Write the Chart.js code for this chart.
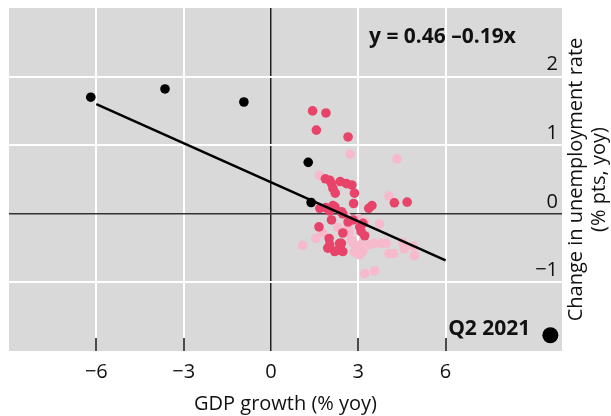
<!DOCTYPE html>
<html>
<head>
<meta charset="utf-8">
<script src="https://cdn.jsdelivr.net/npm/chart.js@4.4.1/dist/chart.umd.min.js"></script>
<style>
  html, body { margin: 0; padding: 0; background: #fff; }
</style>
</head>
<body>
<canvas id="chart" width="611" height="416"></canvas>
<script>
// earlier quarters (pink), recent quarters (red), big outliers (black)
const redX = [1.43, 1.89, 1.56, 2.65, 1.87, 2.02, 2.08, 2.13, 2.38, 2.59, 2.78, 2.21, 2.87, 2.84, 4.24, 4.68, 1.68, 1.88, 2.13, 2.02, 2.20, 2.42, 3.36, 3.47, 2.08, 2.47, 2.82, 2.65, 3.16, 1.65, 3.05, 3.10, 3.22, 2.47, 2.00, 2.02, 1.95, 2.36, 2.30, 2.19, 2.47, 2.42];
const redY = [1.50, 1.47, 1.22, 1.12, 0.51, 0.49, 0.44, 0.37, 0.47, 0.44, 0.42, 0.30, 0.30, 0.15, 0.16, 0.17, 0.08, 0.09, 0.12, 0.04, 0.10, 0.03, 0.08, 0.12, -0.09, 0.00, -0.09, -0.12, -0.14, -0.19, -0.19, -0.26, -0.32, -0.28, -0.36, -0.45, -0.50, -0.43, -0.53, -0.55, -0.55, -0.43];

const pinkX = [2.72, 4.33, 1.66, 4.05, 2.61, 3.00, 3.22, 3.73, 2.30, 1.77, 2.68, 1.54, 1.09, 2.76, 2.82, 2.93, 2.87, 3.05, 3.16, 3.39, 3.55, 3.79, 3.96, 4.05, 4.21, 4.53, 4.58, 4.89, 4.93, 3.22, 3.56, 2.65, 3.10];
const pinkY = [0.87, 0.80, 0.56, 0.26, -0.05, -0.07, -0.12, -0.15, -0.20, -0.28, -0.28, -0.36, -0.46, -0.38, -0.43, -0.48, -0.56, -0.60, -0.55, -0.45, -0.43, -0.43, -0.43, -0.58, -0.58, -0.42, -0.51, -0.47, -0.61, -0.87, -0.83, -0.20, -0.45];

const blackX = [-6.19, -3.64, -0.93, 1.28, 1.38];
const blackY = [1.70, 1.82, 1.63, 0.75, 0.165];

// fitted line end points, y = 0.46 - 0.19x
const fitX = [-6, 6];
const fitY = [1.60, -0.68];

// legend dot for Q2 2021
const q2X = [9.6];
const q2Y = [-1.77];

const xTicks = [-6, -3, 0, 3, 6];
const yTicks = [2, 1, 0, -1];

const FONT = '"Open Sans", "Noto Sans", sans-serif';
const TXT = '#111';

function toPoints(xs, ys) {
  return xs.map((x, i) => ({ x: x, y: ys[i] }));
}
function fmt(v) {
  return v < 0 ? '\u2212' + Math.abs(v) : String(v);
}

const decor = {
  id: 'decor',
  beforeDraw(chart) {
    const { ctx, chartArea: a } = chart;
    ctx.save();
    ctx.fillStyle = '#d9d9d9';
    ctx.fillRect(a.left, a.top, a.right - a.left, a.bottom - a.top);
    ctx.restore();
  },
  beforeDatasetsDraw(chart) {
    // short tick marks pointing up into the plot
    const { ctx, chartArea: a, scales } = chart;
    ctx.save();
    ctx.strokeStyle = '#111';
    ctx.lineWidth = 1.5;
    xTicks.forEach(v => {
      if (v === 0) return;
      const px = Math.round(scales.x.getPixelForValue(v));
      ctx.beginPath();
      ctx.moveTo(px, a.bottom);
      ctx.lineTo(px, a.bottom - 13);
      ctx.stroke();
    });
    ctx.restore();
  },
  afterDraw(chart) {
    const { ctx, chartArea: a, scales } = chart;
    ctx.save();
    ctx.fillStyle = TXT;
    ctx.textBaseline = 'middle';
    ctx.font = 'bold 21px ' + FONT;
    ctx.textAlign = 'left';
    ctx.fillText('y = 0.46 \u20130.19x', 369, 37);
    ctx.textAlign = 'right';
    ctx.fillText('Q2 2021', scales.x.getPixelForValue(q2X[0]) - 20, scales.y.getPixelForValue(q2Y[0]) - 6);

    ctx.font = '20px ' + FONT;
    ctx.translate(587, (a.top + a.bottom) / 2);
    ctx.rotate(-Math.PI / 2);
    ctx.textAlign = 'center';
    ctx.fillText('Change in unemployment rate', 0, -11);
    ctx.fillText('(% pts, yoy)', 0, 12);
    ctx.restore();
  }
};

const zeroOr = (a, b) => c => (c.tick && c.tick.value === 0 ? a : b);

new Chart(document.getElementById('chart').getContext('2d'), {
  type: 'scatter',
  data: {
    datasets: [
      {
        label: 'Fit',
        type: 'line',
        data: toPoints(fitX, fitY),
        borderColor: '#000',
        borderWidth: 2.5,
        pointRadius: 0,
        fill: false,
        order: 0
      },
      {
        label: 'Outliers',
        data: toPoints(blackX, blackY),
        backgroundColor: '#000',
        borderWidth: 0,
        pointRadius: 4.8,
        order: 1
      },
      {
        label: 'Q2 2021',
        data: toPoints(q2X, q2Y),
        backgroundColor: '#000',
        borderWidth: 0,
        pointRadius: 8,
        order: 1
      },
      {
        label: 'Recent',
        data: toPoints(redX, redY),
        backgroundColor: '#e8446a',
        borderWidth: 0,
        pointRadius: 4.8,
        order: 2
      },
      {
        label: 'Earlier',
        data: toPoints(pinkX, pinkY),
        backgroundColor: '#f6bacc',
        borderWidth: 0,
        pointRadius: 4.8,
        order: 3
      }
    ]
  },
  options: {
    responsive: false,
    animation: false,
    layout: { padding: { left: 9, top: 8, right: 49, bottom: 0 } },
    plugins: { legend: { display: false }, tooltip: { enabled: false } },
    scales: {
      x: {
        type: 'linear',
        min: -9,
        max: 10,
        afterBuildTicks: s => { s.ticks = xTicks.map(v => ({ value: v })); },
        afterFit: s => { s.height = 65; s.paddingLeft = 0; s.paddingRight = 0; },
        border: { display: false },
        grid: {
          color: zeroOr('#222', '#fff'),
          lineWidth: zeroOr(1.5, 2),
          drawTicks: false
        },
        ticks: { font: { family: FONT, size: 20 }, color: TXT, padding: 9, callback: fmt },
        title: {
          display: true,
          text: 'GDP growth (% yoy)',
          font: { family: FONT, size: 20 },
          color: TXT,
          padding: { top: 0, bottom: 0 }
        }
      },
      y: {
        type: 'linear',
        position: 'right',
        min: -2,
        max: 3,
        afterBuildTicks: s => { s.ticks = yTicks.map(v => ({ value: v })); },
        afterFit: s => { s.width = 0; s.paddingTop = 0; s.paddingBottom = 0; },
        border: { display: false },
        grid: {
          color: zeroOr('#333', '#fff'),
          lineWidth: zeroOr(1.5, 2),
          drawTicks: false
        },
        ticks: { mirror: true, padding: -4, labelOffset: -12, font: { family: FONT, size: 20 }, color: TXT, callback: fmt }
      }
    }
  },
  plugins: [decor]
});
</script>
</body>
</html>
